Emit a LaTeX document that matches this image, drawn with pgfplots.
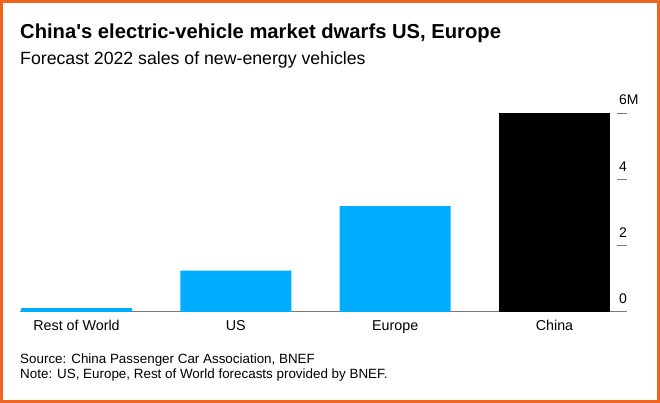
\documentclass[border=0pt]{standalone}
\usepackage{pgfplots}
\pgfplotsset{compat=1.18}
\usepackage{fontspec}
\setmainfont{Liberation Sans}[Ligatures=TeXOff]
\definecolor{evblue}{HTML}{00ADFF}
\definecolor{frame}{HTML}{F0641E}
\definecolor{axgray}{HTML}{7A7A7A}
\begin{document}
\begin{tikzpicture}
  \useasboundingbox (0,0) rectangle (660pt,403pt);
  \draw[frame, line width=3pt] (1.5pt,1.5pt) rectangle (658.5pt,401.5pt);
  % titles
  \node[anchor=base west, inner sep=0pt, font=\fontsize{20.2}{23}\selectfont\bfseries] at (20pt,364pt)
    {China's electric-vehicle market dwarfs US, Europe};
  \node[anchor=base west, inner sep=0pt, font=\fontsize{17.7}{20}\selectfont] at (20pt,338pt)
    {Forecast 2022 sales of new-energy vehicles};
  \begin{axis}[
      at={(20pt,91pt)}, anchor=south west,
      scale only axis, width=607pt, height=198.7pt,
      ybar, bar width=111pt, bar shift=0pt,
      xmin=-0.3547, xmax=3.455, ymin=0, ymax=6,
      axis x line*=bottom, axis y line*=right,
      x axis line style={draw=axgray, line width=1pt, -},
      y axis line style={draw=none},
      xtick={0,1,2,3},
      xticklabels={Rest of World,US,Europe,China},
      xtick style={draw=none},
      xticklabel style={anchor=base, inner sep=0pt, yshift=-19pt, font=\fontsize{14.3}{16}\selectfont},
      ytick={0,2,4,6}, yticklabels={0,2,4,6M},
      tick align=inside, major tick length=10pt,
      ytick style={draw=axgray, line width=1pt},
      yticklabel style={anchor=base west, inner sep=0pt, xshift=-8pt, yshift=8.5pt, font=\fontsize{14}{16}\selectfont},
      /pgf/number format/assume math mode=true,
      clip=false,
    ]
    \addplot[fill=evblue, draw=none] coordinates {(0,0.12) (1,1.25) (2,3.2)};
    \addplot[fill=black, draw=none] coordinates {(3,6.0)};
  \end{axis}
  % footnotes
  \node[anchor=base west, inner sep=0pt, font=\fontsize{13.4}{15}\selectfont] at (20pt,39pt)
    {Source: China Passenger Car Association, BNEF};
  \node[anchor=base west, inner sep=0pt, font=\fontsize{13.4}{15}\selectfont] at (20pt,24pt)
    {Note: US, Europe, Rest of World forecasts provided by BNEF.};
\end{tikzpicture}
\end{document}
